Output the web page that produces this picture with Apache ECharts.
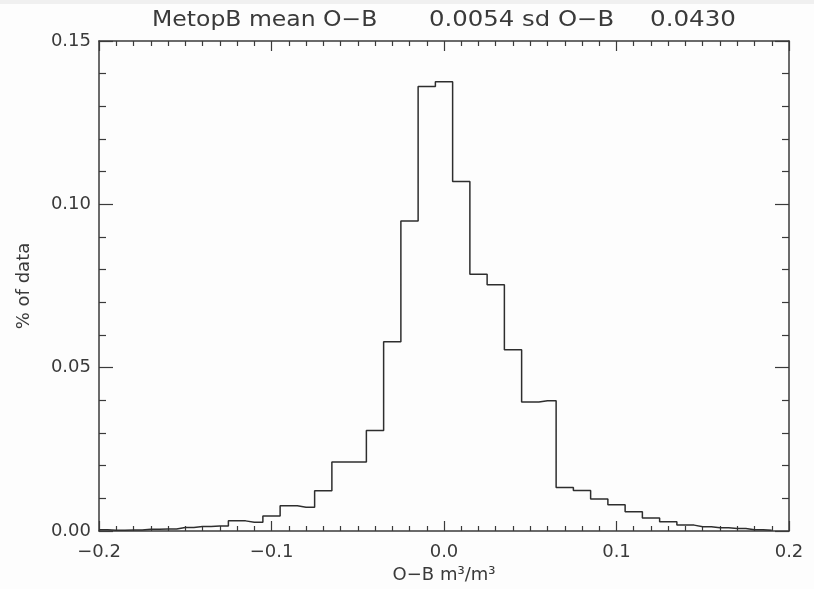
<!DOCTYPE html>
<html>
<head>
<meta charset="utf-8">
<script src="https://cdn.jsdelivr.net/npm/echarts@6/dist/echarts.min.js"></script>
<style>
html,body{margin:0;padding:0;background:#fdfdfd;}
#chart{width:814px;height:589px;}
</style>
</head>
<body>
<div id="chart"></div>
<script>
// Bin centres (O-B, m3/m3)
var binCentres = [-0.20,-0.19,-0.18,-0.17,-0.16,-0.15,-0.14,-0.13,-0.12,-0.11,
                  -0.10,-0.09,-0.08,-0.07,-0.06,-0.05,-0.04,-0.03,-0.02,-0.01,
                   0.00, 0.01, 0.02, 0.03, 0.04, 0.05, 0.06, 0.07, 0.08, 0.09,
                   0.10, 0.11, 0.12, 0.13, 0.14, 0.15, 0.16, 0.17, 0.18, 0.19];
// Fraction of data in each bin
var fractions = [0.0004,0.0002,0.0003,0.0005,0.0006,0.0011,0.0014,0.0015,0.0031,0.0027,
                 0.0046,0.0077,0.0073,0.0123,0.0211,0.0211,0.0308,0.0579,0.0949,0.1361,
                 0.1375,0.1070,0.0786,0.0754,0.0555,0.0395,0.0399,0.0133,0.0124,0.0098,
                 0.0080,0.0059,0.0040,0.0028,0.0018,0.0013,0.0010,0.0008,0.0004,0.0002];
var titleParts = ['MetopB mean O\u2212B', '0.0054 sd O\u2212B', '0.0430'];
var xTickLabels = ['-0.2','-0.1','0.0','0.1','0.2'];
var yTickLabels = ['0.00','0.05','0.10','0.15'];

var FONT = 'DejaVu Sans';
var INK = '#3a3a3a';
var chart = echarts.init(document.getElementById('chart'));
var pts = binCentres.map(function(x,i){return [x, fractions[i]];});

function xFmt(v){
  var idx = Math.round((v + 0.2) / 0.1);
  var s = xTickLabels[idx] || '';
  return s.replace('-', '\u2212');
}
function yFmt(v){
  var idx = Math.round(v / 0.05);
  return yTickLabels[idx] || '';
}

var axisCommon = {
  type: 'value',
  axisLine: {show: true, onZero: false, lineStyle: {color: INK, width: 1.5}},
  splitLine: {show: false}
};
var titleFont = '21px "' + FONT + '"';

chart.setOption({
  backgroundColor: '#fdfdfd',
  animation: false,
  grid: {left: 99, right: 25, top: 41, bottom: 58, containLabel: false},
  graphic: [
    {type: 'rect', left: 0, top: 0, shape: {width: 814, height: 4}, style: {fill: '#f0f0f0'}},
    {type: 'text', left: 152, top: 10, scaleX: 1.12, style: {text: titleParts[0], font: titleFont, fill: INK}},
    {type: 'text', left: 429, top: 10, scaleX: 1.16, style: {text: titleParts[1], font: titleFont, fill: INK}},
    {type: 'text', left: 650, top: 10, scaleX: 1.17, style: {text: titleParts[2], font: titleFont, fill: INK}}
  ],
  xAxis: [
    Object.assign({}, axisCommon, {
      position: 'bottom', min: -0.2, max: 0.2, interval: 0.1,
      name: 'O\u2212B m\u00B3/m\u00B3', nameLocation: 'middle', nameGap: 33,
      nameTextStyle: {fontFamily: FONT, fontSize: 18, color: INK},
      axisTick: {show: true, inside: true, length: 10, lineStyle: {color: INK, width: 1.2}},
      minorTick: {show: true, splitNumber: 10, length: 5, lineStyle: {color: INK, width: 1.2}},
      axisLabel: {show: true, margin: 12, fontFamily: FONT, fontSize: 18, color: INK, formatter: xFmt}
    }),
    Object.assign({}, axisCommon, {
      position: 'top', min: -0.2, max: 0.2, interval: 0.1,
      axisTick: {show: true, inside: true, length: 10, lineStyle: {color: INK, width: 1.2}},
      minorTick: {show: true, splitNumber: 10, length: 5, lineStyle: {color: INK, width: 1.2}},
      axisLabel: {show: false}
    })
  ],
  yAxis: [
    Object.assign({}, axisCommon, {
      position: 'left', min: 0, max: 0.15, interval: 0.05,
      name: '% of data', nameLocation: 'middle', nameGap: 66, nameRotate: 90,
      nameTextStyle: {fontFamily: FONT, fontSize: 18, color: INK},
      axisTick: {show: true, inside: true, length: 14, lineStyle: {color: INK, width: 1.2}},
      minorTick: {show: true, splitNumber: 5, length: 7, lineStyle: {color: INK, width: 1.2}},
      axisLabel: {show: true, margin: 8, fontFamily: FONT, fontSize: 18, color: INK, formatter: yFmt}
    }),
    Object.assign({}, axisCommon, {
      position: 'right', min: 0, max: 0.15, interval: 0.05,
      axisTick: {show: true, inside: true, length: 14, lineStyle: {color: INK, width: 1.2}},
      minorTick: {show: true, splitNumber: 5, length: 7, lineStyle: {color: INK, width: 1.2}},
      axisLabel: {show: false}
    })
  ],
  series: [{
    type: 'line',
    xAxisIndex: 0, yAxisIndex: 0,
    step: 'middle',
    symbol: 'none',
    lineStyle: {color: '#2e2e2e', width: 1.5},
    data: pts
  }]
});
</script>
</body>
</html>
